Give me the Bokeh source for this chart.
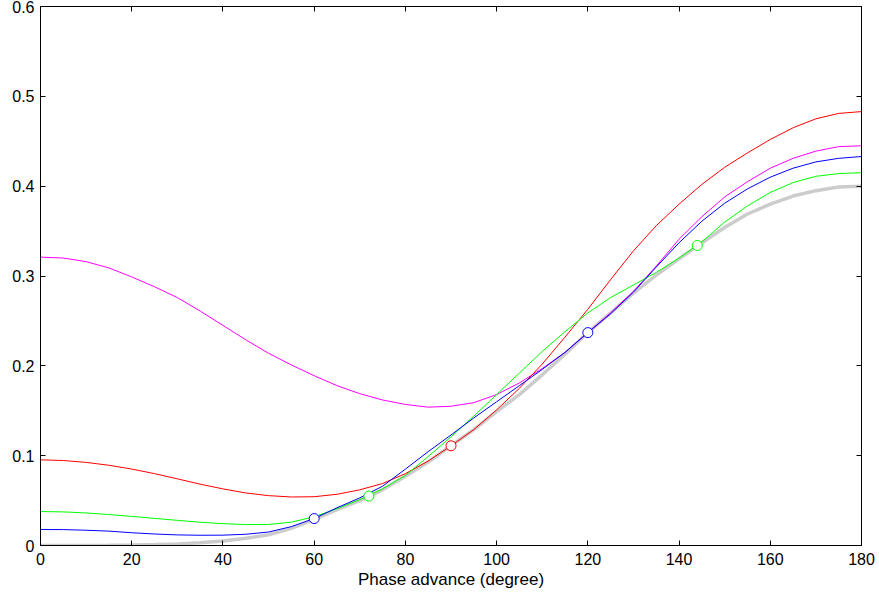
from bokeh.plotting import figure
from bokeh.models import LinearAxis, FixedTicker, CustomJSTickFormatter, Range1d, CustomLabelingPolicy
from bokeh.embed import file_html
from bokeh.resources import INLINE

# ---- data ----
phase = list(range(0, 181, 5))

exact = [0.000, 0.000, 0.000, 0.0002, 0.0005, 0.001, 0.0017, 0.003, 0.005, 0.008,
         0.012, 0.019, 0.029, 0.040, 0.050, 0.062, 0.077, 0.093, 0.111, 0.129,
         0.149, 0.168, 0.190, 0.213, 0.237, 0.259, 0.281, 0.301, 0.319, 0.337,
         0.354, 0.369, 0.380, 0.389, 0.395, 0.399, 0.400]

magenta_vals = [0.321, 0.320, 0.316, 0.309, 0.299, 0.288, 0.276, 0.261, 0.245, 0.229,
                0.214, 0.201, 0.189, 0.178, 0.169, 0.162, 0.157, 0.154, 0.155, 0.159,
                0.168, 0.181, 0.197, 0.215, 0.237, 0.259, 0.283, 0.311, 0.341, 0.366,
                0.388, 0.405, 0.420, 0.431, 0.439, 0.444, 0.445]

red_vals = [0.0954, 0.0946, 0.0925, 0.0893, 0.0851, 0.0800, 0.0742, 0.0683, 0.0630, 0.0585,
            0.0555, 0.0540, 0.0543, 0.057, 0.062, 0.069, 0.080, 0.094, 0.111, 0.129,
            0.151, 0.175, 0.202, 0.232, 0.263, 0.296, 0.328, 0.356, 0.380, 0.402,
            0.421, 0.437, 0.452, 0.465, 0.475, 0.481, 0.483]

green_vals = [0.0378, 0.0374, 0.0362, 0.0345, 0.0324, 0.0302, 0.0280, 0.0259, 0.0243, 0.0233,
              0.0234, 0.026, 0.032, 0.041, 0.051, 0.063, 0.078, 0.099, 0.121, 0.144,
              0.168, 0.192, 0.216, 0.238, 0.259, 0.276, 0.290, 0.304, 0.320, 0.338,
              0.360, 0.378, 0.393, 0.404, 0.411, 0.414, 0.415]

blue_vals = [0.0178, 0.0177, 0.0170, 0.0160, 0.0142, 0.0128, 0.0118, 0.0114, 0.0115, 0.0125,
             0.0150, 0.021, 0.030, 0.042, 0.053, 0.066, 0.085, 0.1045, 0.123, 0.142,
             0.160, 0.178, 0.196, 0.215, 0.237, 0.258, 0.282, 0.310, 0.337, 0.361,
             0.381, 0.397, 0.410, 0.420, 0.427, 0.431, 0.433]

red_pts_x = [90]
red_pts_y = [0.111]
green_pts_x = [72, 144]
green_pts_y = [0.055, 0.334]
blue_pts_x = [60, 120]
blue_pts_y = [0.030, 0.237]

x_ticks = [0, 20, 40, 60, 80, 100, 120, 140, 160, 180]
y_ticks = [0, 0.1, 0.2, 0.3, 0.4, 0.5, 0.6]
x_label = "Phase advance (degree)"

FONT = "Liberation Sans"
FS = "16px"
FS_LABEL = "17px"

p = figure(width=879, height=602,
           x_range=Range1d(0, 180), y_range=Range1d(0, 0.6),
           output_backend="svg", toolbar_location=None,
           x_axis_location=None, y_axis_location=None,
           min_border_left=40, min_border_right=18,
           min_border_top=6, min_border_bottom=57)
p.grid.visible = False
p.outline_line_color = "black"
p.outline_line_width = 1
p.background_fill_color = "white"
p.border_fill_color = "white"

fmt = CustomJSTickFormatter(code="""
var s = tick.toFixed(1);
if (s.endsWith('.0')) { s = s.slice(0, -2); }
return s;
""")
xfmt = CustomJSTickFormatter(code="return tick.toFixed(0);")
no_labels = CustomLabelingPolicy(code="return new Set();")


def style_axis(ax, show_labels):
    ax.axis_line_color = "black"
    ax.axis_line_width = 1
    ax.major_tick_in = 5
    ax.major_tick_out = 0
    ax.major_tick_line_color = "black"
    ax.minor_tick_line_color = None
    if show_labels:
        ax.major_label_text_font = FONT
        ax.major_label_text_font_size = FS
        ax.major_label_text_color = "black"
    else:
        ax.major_label_policy = no_labels
        ax.major_label_text_font_size = "1px"
        ax.major_label_standoff = 0


xb = LinearAxis(ticker=FixedTicker(ticks=x_ticks), formatter=xfmt)
style_axis(xb, True)
xb.major_label_standoff = 7
xb.axis_label = x_label
xb.axis_label_text_font = FONT
xb.axis_label_text_font_size = FS_LABEL
xb.axis_label_text_font_style = "normal"
xb.axis_label_text_color = "black"
xb.axis_label_standoff = 2
p.add_layout(xb, "below")

yl = LinearAxis(ticker=FixedTicker(ticks=y_ticks), formatter=fmt)
style_axis(yl, True)
yl.major_label_standoff = 6
p.add_layout(yl, "left")

xt = LinearAxis(ticker=FixedTicker(ticks=x_ticks), formatter=xfmt)
style_axis(xt, False)
p.add_layout(xt, "above")

yr = LinearAxis(ticker=FixedTicker(ticks=y_ticks), formatter=fmt)
style_axis(yr, False)
p.add_layout(yr, "right")

p.line(phase, exact, line_color="#cccccc", line_width=3.5)
p.line(phase, magenta_vals, line_color="#ff00ff", line_width=1)
p.line(phase, red_vals, line_color="#ff0000", line_width=1)
p.line(phase, green_vals, line_color="#00ff00", line_width=1)
p.line(phase, blue_vals, line_color="#0000ff", line_width=1)

p.scatter(red_pts_x, red_pts_y, marker="circle", size=10,
          fill_color="white", line_color="#ff0000", line_width=1)
p.scatter(green_pts_x, green_pts_y, marker="circle", size=10,
          fill_color="white", line_color="#00ff00", line_width=1)
p.scatter(blue_pts_x, blue_pts_y, marker="circle", size=10,
          fill_color="white", line_color="#0000ff", line_width=1)

open("out.html", "w").write(file_html(p, INLINE))
